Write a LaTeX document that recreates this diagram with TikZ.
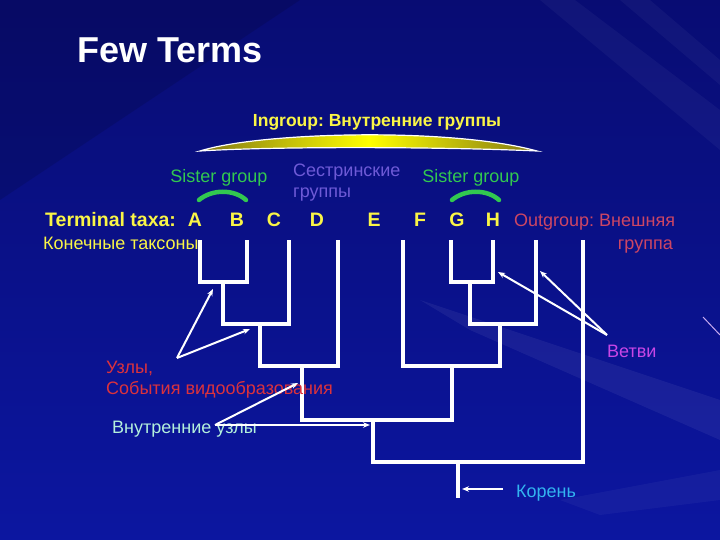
\documentclass[tikz,border=0pt]{standalone}
\usepackage{fontspec}
\setmainfont{Liberation Sans}
\usetikzlibrary{arrows.meta}
\frenchspacing
\definecolor{bgtop}{RGB}{8,12,115}
\definecolor{bgbot}{RGB}{12,22,160}
\definecolor{ylw}{RGB}{250,245,70}
\definecolor{sgreen}{RGB}{50,200,80}
\definecolor{spurple}{RGB}{110,90,215}
\definecolor{ored}{RGB}{205,70,100}
\definecolor{nred}{RGB}{220,50,60}
\definecolor{bmag}{RGB}{200,70,230}
\definecolor{ilight}{RGB}{180,240,220}
\definecolor{rcyan}{RGB}{50,180,240}
\definecolor{olive}{RGB}{130,120,20}
\tikzset{
  branch/.style={draw=white, line width=4pt},
  pointer/.style={draw=white, line width=2pt, -{Stealth[length=7pt,width=5.5pt]}},
  txt/.style={inner sep=0pt, anchor=base west},
  reg/.style={font=\fontsize{18}{21}\selectfont},
  bld/.style={font=\fontsize{19.5}{22}\selectfont\bfseries},
  sister/.style={draw=sgreen, line width=4.5pt, line cap=round},
}
\begin{document}
\begin{tikzpicture}[x=1pt,y=-1pt]
\useasboundingbox (0,0) rectangle (720,540);
% background
\shade[top color=bgtop, bottom color=bgbot] (0,0) rectangle (720,540);
\fill[white, opacity=0.04] (540,0) -- (575,0) -- (720,110) -- (720,150) -- cycle;
\fill[white, opacity=0.04] (620,0) -- (650,0) -- (720,60) -- (720,85) -- cycle;
\fill[white, opacity=0.06] (420,300) -- (720,400) -- (720,440) -- (470,330) -- cycle;
\fill[white, opacity=0.04] (560,500) -- (720,470) -- (720,500) -- (600,515) -- cycle;
\fill[black, opacity=0.12] (0,0) -- (300,0) -- (0,200) -- cycle;
\draw[color={rgb,255:red,200;green,170;blue,240}, line width=1pt] (703,317) -- (720,335);

% title
\node[txt, font=\fontsize{36}{40}\selectfont\bfseries, text=white] (title) at (77,63) {Few Terms};

% ingroup
\node[txt, anchor=base, font=\fontsize{17.5}{20}\selectfont\bfseries, text=ylw] (ingroup) at (377,127) {Ingroup: Внутренние группы};
\path[draw=white, line width=1.2pt, left color=olive, right color=olive, middle color=yellow]
  (200,151) .. controls (260,132) and (450,127) .. (537,151)
  .. controls (450,147) and (280,146) .. cycle;

% sister groups
\node[txt, anchor=base, reg, text=sgreen] (sg1) at (219,183) {Sister group};
\node[txt, anchor=base, reg, text=sgreen] (sg2) at (471,183) {Sister group};
\draw[sister] (199,200) .. controls (212,189) and (234,189) .. (246,200);
\draw[sister] (452,200) .. controls (465,189) and (487,189) .. (499,200);
\node[txt, reg, text=spurple] (sest) at (293,177) {Сестринские};
\node[txt, reg, text=spurple] (sest2) at (293,198) {группы};

% terminal taxa
\node[txt, bld, text=ylw] (term) at (45,226) {Terminal taxa:};
\foreach \n/\x in {A/195,B/237,C/274,D/317,E/374,F/420,G/457,H/493}
  \node[txt, anchor=base, bld, text=ylw] (L\n) at (\x,226) {\n};
\node[txt, reg, text=ylw] (kon) at (43,249) {Конечные таксоны};
\node[txt, reg, text=ored] (out1) at (514,226) {Outgroup: Внешняя};
\node[txt, anchor=base east, reg, text=ored] (out2) at (673,249) {группа};

% tree coordinates
\coordinate (tA) at (200,240);
\coordinate (tB) at (247,240);
\coordinate (tC) at (289,240);
\coordinate (tD) at (338,240);
\coordinate (tE) at (403,240);
\coordinate (tF) at (451,240);
\coordinate (tG) at (493,240);
\coordinate (tH) at (536,240);
\coordinate (tO) at (583,240);
\coordinate (nAB) at (223,282);
\coordinate (nABC) at (260,324);
\coordinate (nABCD) at (302,366);
\coordinate (nFG) at (470,282);
\coordinate (nFGH) at (500,324);
\coordinate (nEFGH) at (452,366);
\coordinate (nIn) at (373,420);
\coordinate (nRoot) at (458,462);
\coordinate (rootEnd) at (458,498);

\draw[branch] (tA) |- (nAB) -| (tB);
\draw[branch] (nAB) |- (nABC) -| (tC);
\draw[branch] (nABC) |- (nABCD) -| (tD);
\draw[branch] (tF) |- (nFG) -| (tG);
\draw[branch] (nFG) |- (nFGH) -| (tH);
\draw[branch] (tE) |- (nEFGH) -| (nFGH);
\draw[branch] (nABCD) |- (nIn) -| (nEFGH);
\draw[branch] (nIn) |- (nRoot) -| (tO);
\draw[branch] (nRoot) -- (rootEnd);

% labels
\node[txt, reg, text=bmag] (vetvi) at (607,357) {Ветви};
\node[txt, reg, text=nred] (uzly1) at (106,373) {Узлы,};
\node[txt, reg, text=nred] (uzly2) at (106,394) {События видообразования};
\node[txt, reg, text=ilight] (vnutr) at (112,433) {Внутренние узлы};
\node[txt, reg, text=rcyan] (koren) at (516,497) {Корень};

% arrows
\coordinate (uS) at (177,358);
\coordinate (uT1) at (213,289);
\coordinate (uT2) at (250,329);
\draw[pointer] (uS) -- (uT1);
\draw[pointer] (uS) -- (uT2);
\coordinate (iS) at (215,425);
\coordinate (iT1) at (298,383);
\coordinate (iT2) at (370,425);
\draw[pointer] (iS) -- (iT1);
\draw[pointer] (iS) -- (iT2);
\coordinate (vS) at (607,335);
\coordinate (vT1) at (498,272);
\coordinate (vT2) at (540,271);
\draw[pointer] (vS) -- (vT1);
\draw[pointer] (vS) -- (vT2);
\coordinate (kS) at (503,489);
\coordinate (kT) at (462,489);
\draw[pointer] (kS) -- (kT);
\end{tikzpicture}
\end{document}
